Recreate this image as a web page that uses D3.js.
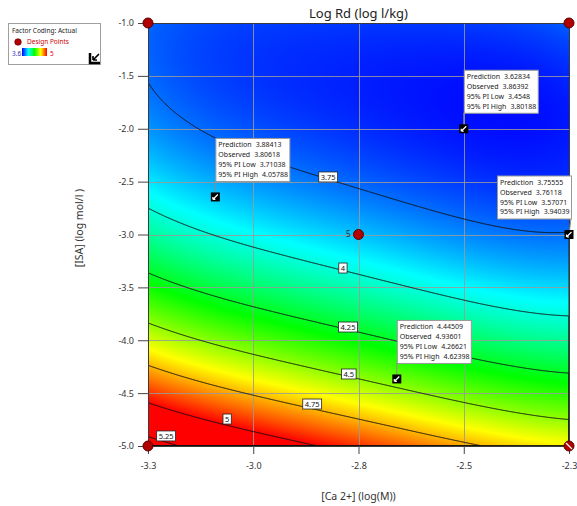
<!DOCTYPE html>
<html><head><meta charset="utf-8">
<script src="https://cdn.jsdelivr.net/npm/d3@7"></script>
<style>
html,body{margin:0;padding:0;background:#fff;}
svg{display:block;font-family:"Noto Sans",sans-serif;}
</style></head><body>
<svg id="chart" width="577" height="506"></svg>
<script>
// ---------------- data ----------------
const chartTitle = "Log Rd (log l/kg)";
const xLabel = "[Ca 2+] (log(M))";
const yLabel = "[ISA] (log mol/l )";
const xDomain = [-3.3, -2.3];
const yDomain = [-5.0, -1.0];
const xTickValues = [-3.3, -3.05, -2.8, -2.55, -2.3];
const xTickLabels = ["-3.3", "-3.0", "-2.8", "-2.5", "-2.3"];
const yTickValues = [-1.0, -1.5, -2.0, -2.5, -3.0, -3.5, -4.0, -4.5, -5.0];
const yTickLabels = ["-1.0", "-1.5", "-2.0", "-2.5", "-3.0", "-3.5", "-4.0", "-4.5", "-5.0"];
// response surface (coded factors A = [Ca 2+], B = [ISA])
const termPowA = [0, 1, 0, 1, 2, 0, 4];
const termPowB = [0, 0, 1, 1, 0, 2, 0];
const termCoef = [3.866, -0.1683, -0.629, 0.1629, 0.0127, 0.44, 0.045];
const colorDomain = [3.6, 3.95, 4.3, 4.65, 5.0];
const colorRange = ["#0000ff", "#00ffff", "#00ff00", "#ffff00", "#ff0000"];
const contourLevels = [3.75, 4, 4.25, 4.5, 4.75, 5, 5.25];
const contourLabels = ["3.75", "4", "4.25", "4.5", "4.75", "5", "5.25"];
const contourLabelX = [-2.872, -2.837, -2.825, -2.823, -2.910, -3.112, -3.257];
const contourLabelY = [-2.456, -3.317, -3.875, -4.319, -4.603, -4.745, -4.905];
const designX = [-3.3, -2.3, -2.8, -3.3, -2.3];
const designY = [-1.0, -1.0, -3.0, -5.0, -5.0];
const designReps = [1, 1, 5, 1, 1];
const designIgnored = [false, false, false, false, true];
const flagX = [-3.14, -2.55, -2.3, -2.709];
const flagY = [-2.645, -2.0, -3.0, -4.366];
const flagPrediction = ["3.88413", "3.62834", "3.75555", "4.44509"];
const flagObserved = ["3.80618", "3.86392", "3.76118", "4.93601"];
const flagPILow = ["3.71038", "3.4548", "3.57071", "4.26621"];
const flagPIHigh = ["4.05788", "3.80188", "3.94039", "4.62398"];
const boxRowNames = ["Prediction", "Observed", "95% PI Low", "95% PI High"];
const legendTitle = "Factor Coding: Actual";
const legendSeries = "Design Points";
const legendLow = "3.6", legendHigh = "5";

// ---------------- layout ----------------
const W = 577, H = 506;
const P = {l: 148, r: 569, t: 23, b: 446};
const svg = d3.select("#chart");
const x = d3.scaleLinear().domain(xDomain).range([P.l, P.r]);
const y = d3.scaleLinear().domain(yDomain).range([P.b, P.t]);
const color = d3.scaleLinear().domain(colorDomain).range(colorRange).clamp(true);

const midA = (xDomain[0] + xDomain[1]) / 2, halfA = (xDomain[1] - xDomain[0]) / 2;
const midB = (yDomain[0] + yDomain[1]) / 2, halfB = (yDomain[1] - yDomain[0]) / 2;
function model(xv, yv) {
  const A = (xv - midA) / halfA, B = (yv - midB) / halfB;
  let s = 0;
  for (let k = 0; k < termCoef.length; k++) s += termCoef[k] * Math.pow(A, termPowA[k]) * Math.pow(B, termPowB[k]);
  return s;
}

// ---------------- heatmap ----------------
const nx = P.r - P.l, ny = P.b - P.t;
const values = new Float64Array(nx * ny);
const canvas = document.createElement("canvas");
canvas.width = nx; canvas.height = ny;
const ctx = canvas.getContext("2d");
const img = ctx.createImageData(nx, ny);
for (let j = 0; j < ny; j++) {
  const yv = y.invert(P.t + j + 0.5);
  for (let i = 0; i < nx; i++) {
    const xv = x.invert(P.l + i + 0.5);
    const f = model(xv, yv);
    values[j * nx + i] = f;
    const c = d3.rgb(color(f));
    const o = 4 * (j * nx + i);
    img.data[o] = c.r; img.data[o + 1] = c.g; img.data[o + 2] = c.b; img.data[o + 3] = 255;
  }
}
ctx.putImageData(img, 0, 0);

const defs = svg.append("defs");
defs.append("clipPath").attr("id", "plotclip").append("rect")
  .attr("x", P.l).attr("y", P.t).attr("width", nx).attr("height", ny);

svg.append("image").attr("x", P.l).attr("y", P.t).attr("width", nx).attr("height", ny)
  .attr("preserveAspectRatio", "none").attr("href", canvas.toDataURL());

// grid
const grid = svg.append("g").attr("stroke", "#9a9a9a").attr("stroke-width", 1).attr("stroke-opacity", 0.85)
  .attr("shape-rendering", "crispEdges");
grid.selectAll("line.gx").data(xTickValues).join("line").attr("class", "gx")
  .attr("x1", d => Math.round(x(d)) + 0.5).attr("x2", d => Math.round(x(d)) + 0.5).attr("y1", P.t).attr("y2", P.b);
grid.selectAll("line.gy").data(yTickValues).join("line").attr("class", "gy")
  .attr("y1", d => Math.round(y(d)) + 0.5).attr("y2", d => Math.round(y(d)) + 0.5).attr("x1", P.l).attr("x2", P.r);

// contour lines
const contours = d3.contours().size([nx, ny]).thresholds(contourLevels)(values);
const proj = d3.geoTransform({point(px, py) { this.stream.point(P.l + px, P.t + py); }});
svg.append("g").attr("clip-path", "url(#plotclip)")
  .selectAll("path").data(contours).join("path")
  .attr("d", d3.geoPath(proj)).attr("fill", "none").attr("stroke", "#111").attr("stroke-width", 1);

// contour labels
const cl = svg.append("g").selectAll("g").data(contourLabels).join("g")
  .attr("transform", (d, i) => `translate(${x(contourLabelX[i])},${y(contourLabelY[i])})`);
cl.append("rect");
cl.append("text").text(d => d).attr("text-anchor", "middle").attr("dy", "0.35em")
  .attr("font-size", "7.5px").attr("fill", "#111");
cl.each(function () {
  const g = d3.select(this);
  const w = g.select("text").node().getComputedTextLength() + 4;
  g.select("rect").attr("x", -w / 2).attr("y", -5).attr("width", w).attr("height", 10)
    .attr("fill", "#fff").attr("stroke", "#222").attr("stroke-width", 0.8);
});

// frame
svg.append("rect").attr("x", P.l + 0.5).attr("y", P.t + 0.5).attr("width", nx).attr("height", ny)
  .attr("fill", "none").attr("stroke", "#3a3a3a").attr("stroke-width", 1);

// axes
const gx = svg.append("g").attr("transform", `translate(0,${P.b})`)
  .call(d3.axisBottom(x).tickValues(xTickValues).tickFormat((d, i) => xTickLabels[i]).tickSize(8).tickPadding(9));
const gy = svg.append("g").attr("transform", `translate(${P.l},0)`)
  .call(d3.axisLeft(y).tickValues(yTickValues).tickFormat((d, i) => yTickLabels[i]).tickSize(10).tickPadding(4));
[gx, gy].forEach(g => {
  g.select(".domain").remove();
  g.selectAll(".tick line").attr("stroke", "#444");
  g.selectAll(".tick text").attr("font-size", "9px").attr("fill", "#333").attr("font-family", "Noto Sans, sans-serif");
});

// titles
svg.append("text").attr("x", (P.l + P.r) / 2).attr("y", 18).attr("text-anchor", "middle")
  .attr("font-size", "13px").attr("fill", "#222").text(chartTitle);
svg.append("text").attr("x", (P.l + P.r) / 2).attr("y", 500).attr("text-anchor", "middle")
  .attr("font-size", "10.5px").attr("fill", "#333").text(xLabel);
svg.append("text").attr("transform", `translate(83,228) rotate(-90)`).attr("text-anchor", "middle")
  .attr("font-size", "10.5px").attr("fill", "#333").text(yLabel);

// design points
const dp = svg.append("g").selectAll("g").data(designX).join("g")
  .attr("transform", (d, i) => `translate(${x(d)},${y(designY[i])})`);
dp.append("circle").attr("r", 5).attr("fill", "#b00000").attr("stroke", "#5a0000").attr("stroke-width", 1);
dp.filter((d, i) => designIgnored[i]).append("line")
  .attr("x1", -3).attr("y1", -3).attr("x2", 3).attr("y2", 3).attr("stroke", "#fff").attr("stroke-width", 1.3);
dp.filter((d, i) => designReps[i] > 1).append("text")
  .text((d, i) => designReps[designX.indexOf(d)])
  .attr("x", -8).attr("dy", "0.35em").attr("text-anchor", "end").attr("font-size", "8px").attr("fill", "#222");

// flagged points with info boxes
const BW = 74, BH = 43, GAP = 16;
flagX.forEach((fx, i) => {
  const sx = x(fx), sy = y(flagY[i]);
  let bx = sx, edgeX = sx;
  if (sx + BW > P.r) { bx = sx - BW + 2; edgeX = sx + 2; }
  const by = sy - GAP - BH;
  const g = svg.append("g");
  g.append("line").attr("x1", edgeX).attr("y1", by + BH).attr("x2", sx).attr("y2", sy)
    .attr("stroke", "#8a8a8a").attr("stroke-width", 1);
  g.append("rect").attr("x", bx + 0.5).attr("y", by + 0.5).attr("width", BW).attr("height", BH)
    .attr("fill", "#fff").attr("stroke", "#999").attr("stroke-width", 1);
  const vals = [flagPrediction[i], flagObserved[i], flagPILow[i], flagPIHigh[i]];
  boxRowNames.forEach((nm, k) => {
    const t = g.append("text").attr("x", bx + 3).attr("y", by + 9.5 + k * 9.8)
      .attr("font-size", "7px").attr("fill", "#222");
    t.append("tspan").text(nm);
    t.append("tspan").attr("dx", 4).text(vals[k]);
  });
  g.append("rect").attr("x", sx - 4.5).attr("y", sy - 4.5).attr("width", 9).attr("height", 9).attr("fill", "#000");
  g.append("path").attr("d", `M${sx - 2.5},${sy + 2.5}L${sx + 2.5},${sy - 2.5}M${sx - 2.5},${sy + 2.5}l0,-2.5M${sx - 2.5},${sy + 2.5}l2.5,0`)
    .attr("stroke", "#fff").attr("stroke-width", 1.2).attr("fill", "none");
});

// legend
const lg = svg.append("g");
lg.append("rect").attr("x", 8.5).attr("y", 23.5).attr("width", 92).attr("height", 41)
  .attr("fill", "#fff").attr("stroke", "#a0a0a0");
lg.append("text").attr("x", 12).attr("y", 33).attr("font-size", "6.5px").attr("fill", "#222").text(legendTitle);
lg.append("circle").attr("cx", 18).attr("cy", 42).attr("r", 3.3).attr("fill", "#b00000").attr("stroke", "#5a0000").attr("stroke-width", 0.6);
lg.append("text").attr("x", 27).attr("y", 44.3).attr("font-size", "6.5px").attr("fill", "#d00000").text(legendSeries);
const grad = defs.append("linearGradient").attr("id", "lgGrad");
colorRange.forEach((c, i) => grad.append("stop").attr("offset", (i / (colorRange.length - 1) * 100) + "%").attr("stop-color", c));
lg.append("rect").attr("x", 22).attr("y", 48).attr("width", 25).attr("height", 8).attr("fill", "url(#lgGrad)");
lg.append("text").attr("x", 12).attr("y", 55.5).attr("font-size", "6.5px").attr("fill", "#3030c0").text(legendLow);
lg.append("text").attr("x", 50).attr("y", 55.5).attr("font-size", "6.5px").attr("fill", "#e00000").text(legendHigh);
lg.append("path").attr("d", "M90,53V63H100").attr("stroke", "#000").attr("stroke-width", 2.5).attr("fill", "none");
lg.append("path").attr("d", "M99,54L93,60M93,60h4M93,60v-4").attr("stroke", "#000").attr("stroke-width", 1.6).attr("fill", "none");
</script>
</body></html>
